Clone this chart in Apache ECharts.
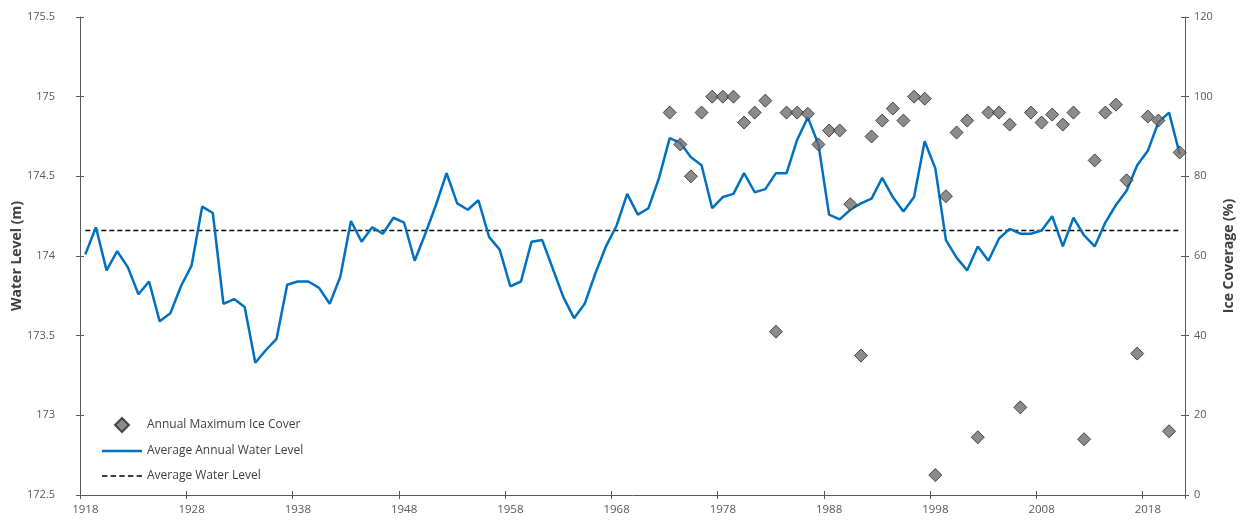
<!DOCTYPE html>
<html>
<head>
<meta charset="utf-8">
<script src="https://cdn.jsdelivr.net/npm/echarts@6/dist/echarts.min.js"></script>
<style>
  html, body { margin: 0; padding: 0; background: #ffffff; }
  #chart { width: 1244px; height: 521px; }
</style>
</head>
<body>
<div id="chart"></div>
<script>
// ---------- data ----------
const years = [];
for (let y = 1918; y <= 2021; y++) years.push(String(y));

// Average annual water level (m), 1918-2021
const waterLevel = [
  174.01, 174.18, 173.91, 174.03, 173.93, 173.76, 173.84, 173.59, 173.64, 173.81, // 1918-1927
  173.94, 174.31, 174.27, 173.70, 173.73, 173.68, 173.33, 173.41, 173.48, 173.82, // 1928-1937
  173.84, 173.84, 173.80, 173.70, 173.87, 174.22, 174.09, 174.18, 174.14, 174.24, // 1938-1947
  174.21, 173.97, 174.14, 174.32, 174.52, 174.33, 174.29, 174.35, 174.12, 174.04, // 1948-1957
  173.81, 173.84, 174.09, 174.10, 173.92, 173.74, 173.61, 173.70, 173.89, 174.06, // 1958-1967
  174.19, 174.39, 174.26, 174.30, 174.49, 174.74, 174.71, 174.62, 174.57, 174.30, // 1968-1977
  174.37, 174.39, 174.52, 174.40, 174.42, 174.52, 174.52, 174.73, 174.87, 174.70, // 1978-1987
  174.26, 174.23, 174.29, 174.33, 174.36, 174.49, 174.37, 174.28, 174.37, 174.72, // 1988-1997
  174.55, 174.10, 173.99, 173.91, 174.06, 173.97, 174.11, 174.17, 174.14, 174.14, // 1998-2007
  174.16, 174.25, 174.06, 174.24, 174.13, 174.06, 174.21, 174.32, 174.41, 174.57, // 2008-2017
  174.66, 174.84, 174.90, 174.64                                                  // 2018-2021
];

// Annual maximum ice cover (%), 1973-2021
const iceStartYear = 1973;
const iceCover = [
  96, 88, 80, 96, 100, 100, 100, 93.5, 96, 99,      // 1973-1982
  41, 96, 96, 95.7, 88, 91.5, 91.5, 73, 35, 90,     // 1983-1992
  94, 97, 94, 100, 99.5, 5, 75, 91, 94, 14.5,       // 1993-2002
  96, 96, 93, 22, 96, 93.5, 95.5, 93, 96, 14,       // 2003-2012
  84, 96, 98, 79, 35.5, 95, 94, 16, 86              // 2013-2021
];

// Long-term average water level (m)
const averageLevel = 174.16;

const levelTicks = { min: 172.5, max: 175.5, interval: 0.5 };
const iceTicks = { min: 0, max: 120, interval: 20 };

// ---------- build ----------
const icePairs = iceCover.map((v, i) => [String(iceStartYear + i), v]);
const avgLine = years.map(() => averageLevel);

const FONT = "'Open Sans', 'Noto Sans', sans-serif";
const AXIS_COLOR = '#595959';
const LABEL_COLOR = '#595959';

// legend icons
const ICON_DIAMOND = 'path://M7,0 L14,7 L7,14 L0,7 Z';
const ICON_SOLID = 'path://M0,0 L40,0 L40,2.5 L0,2.5 Z';
let dashPath = '';
for (let x = 0; x < 40; x += 8) dashPath += 'M' + x + ',0 L' + (x + 5) + ',0 L' + (x + 5) + ',1.5 L' + x + ',1.5 Z ';
const ICON_DASHED = 'path://' + dashPath.trim();

const chart = echarts.init(document.getElementById('chart'), null, { renderer: 'canvas' });

function xAxisBase(inside, showLabel) {
  return {
    type: 'category',
    data: years,
    position: 'bottom',
    boundaryGap: true,
    axisLine: { show: !inside, lineStyle: { color: AXIS_COLOR, width: 1 } },
    axisTick: { show: true, inside: inside, length: 4, interval: 9, alignWithLabel: false,
                lineStyle: { color: AXIS_COLOR, width: 1 } },
    axisLabel: { show: showLabel, interval: 9, margin: 9, color: LABEL_COLOR,
                 fontFamily: FONT, fontSize: 11.5 },
    splitLine: { show: false }
  };
}

function yAxisBase(t, pos, inside, showLabel, extra) {
  return Object.assign({
    type: 'value',
    position: pos,
    min: t.min, max: t.max, interval: t.interval,
    axisLine: { show: !inside, lineStyle: { color: AXIS_COLOR, width: 1 } },
    axisTick: { show: true, inside: inside, length: 4, lineStyle: { color: AXIS_COLOR, width: 1 } },
    axisLabel: { show: showLabel, color: LABEL_COLOR, fontFamily: FONT, fontSize: 11 },
    splitLine: { show: false }
  }, extra || {});
}

const option = {
  backgroundColor: '#ffffff',
  animation: false,
  grid: { left: 80, right: 59, top: 17, bottom: 26, containLabel: false, outerBoundsMode: 'none' },
  legend: {
    orient: 'vertical',
    left: 97,
    top: 412,
    itemWidth: 40,
    itemHeight: 14,
    itemGap: 11,
    symbolKeepAspect: true,
    textStyle: { color: '#404040', fontFamily: FONT, fontSize: 12, lineHeight: 14 },
    data: [
      { name: 'Annual Maximum Ice Cover', icon: ICON_DIAMOND },
      { name: 'Average Annual Water Level', icon: ICON_SOLID, itemStyle: { borderWidth: 0 } },
      { name: 'Average Water Level', icon: ICON_DASHED, itemStyle: { borderWidth: 0 } }
    ]
  },
  xAxis: [ xAxisBase(false, true), xAxisBase(true, false) ],
  yAxis: [
    yAxisBase(levelTicks, 'left', false, true, {
      name: 'Water Level (m)', nameLocation: 'middle', nameGap: 56, nameRotate: 90,
      nameMoveOverlap: false,
      nameTextStyle: { color: '#404040', fontFamily: FONT, fontSize: 14, fontWeight: 'bold' },
      axisLabel: { show: true, color: LABEL_COLOR, fontFamily: FONT, fontSize: 11, margin: 25 }
    }),
    yAxisBase(iceTicks, 'right', false, true, {
      name: 'Ice Coverage (%)', nameLocation: 'middle', nameGap: 37, nameRotate: 90,
      nameMoveOverlap: false,
      nameTextStyle: { color: '#404040', fontFamily: FONT, fontSize: 14, fontWeight: 'bold' },
      axisLabel: { show: true, color: LABEL_COLOR, fontFamily: FONT, fontSize: 11, margin: 9 }
    }),
    yAxisBase(levelTicks, 'left', true, false),
    yAxisBase(iceTicks, 'right', true, false)
  ],
  series: [
    {
      name: 'Average Water Level',
      type: 'line',
      xAxisIndex: 0, yAxisIndex: 0,
      data: avgLine,
      symbol: 'none',
      lineStyle: { color: '#000000', width: 1.5, type: [5, 3] },
      itemStyle: { color: '#000000' },
      z: 2
    },
    {
      name: 'Average Annual Water Level',
      type: 'line',
      xAxisIndex: 0, yAxisIndex: 0,
      data: waterLevel,
      symbol: 'none',
      lineStyle: { color: '#0070C0', width: 2.5 },
      itemStyle: { color: '#0070C0' },
      z: 3
    },
    {
      name: 'Annual Maximum Ice Cover',
      type: 'scatter',
      xAxisIndex: 0, yAxisIndex: 1,
      data: icePairs,
      symbol: 'diamond',
      symbolSize: 13,
      itemStyle: { color: '#6E6E6E', borderColor: '#262626', borderWidth: 1 },
      z: 4
    }
  ]
};

chart.setOption(option);
</script>
</body>
</html>
